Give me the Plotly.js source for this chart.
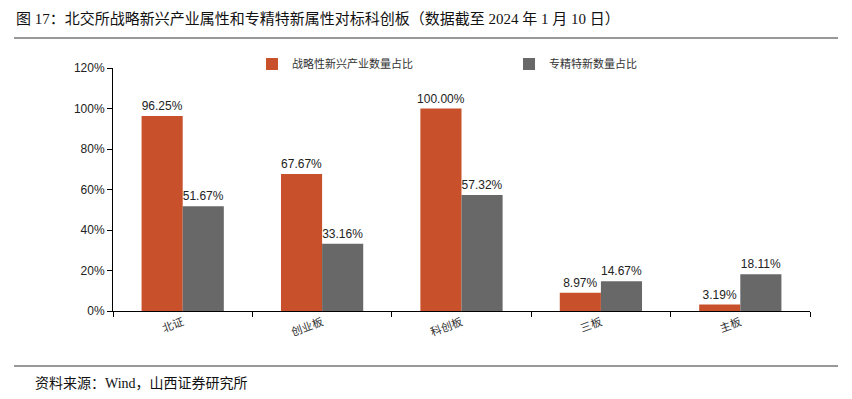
<!DOCTYPE html>
<html><head><meta charset="utf-8">
<script src="https://cdn.plot.ly/plotly-3.0.1.min.js"></script>
<style>html,body{margin:0;padding:0;background:#fff}#c{width:852px;height:399px}</style>
</head><body><div id="c"></div>
<script>
const categories = ['北证','创业板','科创板','三板','主板'];
const strategicShare = [0.9625, 0.6767, 1.0000, 0.0897, 0.0319];
const specialShare = [0.5167, 0.3316, 0.5732, 0.1467, 0.1811];
const seriesNames = ['战略性新兴产业数量占比','专精特新数量占比'];
const yTicks = [0,0.2,0.4,0.6,0.8,1.0,1.2];
const yTickText = ['0%','20%','40%','60%','80%','100%','120%'];

const fmt = v => (v*100).toFixed(2) + '%';
const tf = {family:'Liberation Sans, Arial, sans-serif', size:12, color:'#222'};
const traces = [
  {type:'bar', x:categories, y:strategicShare, name:seriesNames[0], marker:{color:'#C8502A'}, legend:'legend',
   text:strategicShare.map(fmt), textposition:'outside', textfont:tf, cliponaxis:false, constraintext:'none'},
  {type:'bar', x:categories, y:specialShare, name:seriesNames[1], marker:{color:'#686868'}, legend:'legend2',
   text:specialShare.map(fmt), textposition:'outside', textfont:tf, cliponaxis:false, constraintext:'none'}
];
const W=697, H=243, L=113, T=68;
const px = x => (x-L)/W, py = y => (T+H-y)/H;
const legFont = {family:'Noto Sans CJK SC, sans-serif', size:11, color:'#333'};
const layout = {
  width:852, height:399, margin:{l:L, r:852-L-W, t:T, b:399-T-H},
  paper_bgcolor:'#fff', plot_bgcolor:'#fff',
  barmode:'group', bargap:0.41, bargroupgap:0,
  showlegend:true,
  legend:{orientation:'h', x:px(252), xanchor:'left', y:py(64), yanchor:'middle', font:legFont,
    itemwidth:30, bgcolor:'rgba(0,0,0,0)', itemclick:false},
  legend2:{orientation:'h', x:px(509), xanchor:'left', y:py(64), yanchor:'middle', font:legFont,
    itemwidth:30, bgcolor:'rgba(0,0,0,0)', itemclick:false},
  xaxis:{showline:true, linecolor:'#000', linewidth:1, ticks:'outside', tickson:'boundaries',
    ticklen:5, tickcolor:'#000', tickangle:-20,
    tickfont:{family:'Noto Sans CJK SC, sans-serif', size:11, color:'#333'}, showgrid:false, fixedrange:true},
  yaxis:{range:[0,1.2], tickvals:yTicks, ticktext:yTickText, showline:true, linecolor:'#000', linewidth:1,
    ticks:'outside', ticklen:5, tickcolor:'#000', showgrid:false, zeroline:false,
    tickfont:{family:'Liberation Sans, Arial, sans-serif', size:12, color:'#222'}, fixedrange:true},
  shapes:[
    {type:'line', xref:'paper', yref:'paper', x0:px(14), x1:px(838), y0:py(38), y1:py(38), line:{color:'#333', width:1}},
    {type:'line', xref:'paper', yref:'paper', x0:px(14), x1:px(838), y0:py(366), y1:py(366), line:{color:'#333', width:1}}
  ],
  annotations:[
    {xref:'paper', yref:'paper', x:px(14), y:py(18), xanchor:'left', yanchor:'middle', showarrow:false,
     text:'图 17：北交所战略新兴产业属性和专精特新属性对标科创板（数据截至 2024 年 1 月 10 日）',
     font:{family:'Liberation Serif, Noto Sans CJK SC, serif', size:15, color:'#111'}},
    {xref:'paper', yref:'paper', x:px(33), y:py(383), xanchor:'left', yanchor:'middle', showarrow:false,
     text:'资料来源：Wind，山西证券研究所',
     font:{family:'Liberation Serif, Noto Sans CJK SC, serif', size:14, color:'#111'}}
  ]
};
Plotly.newPlot('c', traces, layout, {displayModeBar:false, staticPlot:true});
</script></body></html>
